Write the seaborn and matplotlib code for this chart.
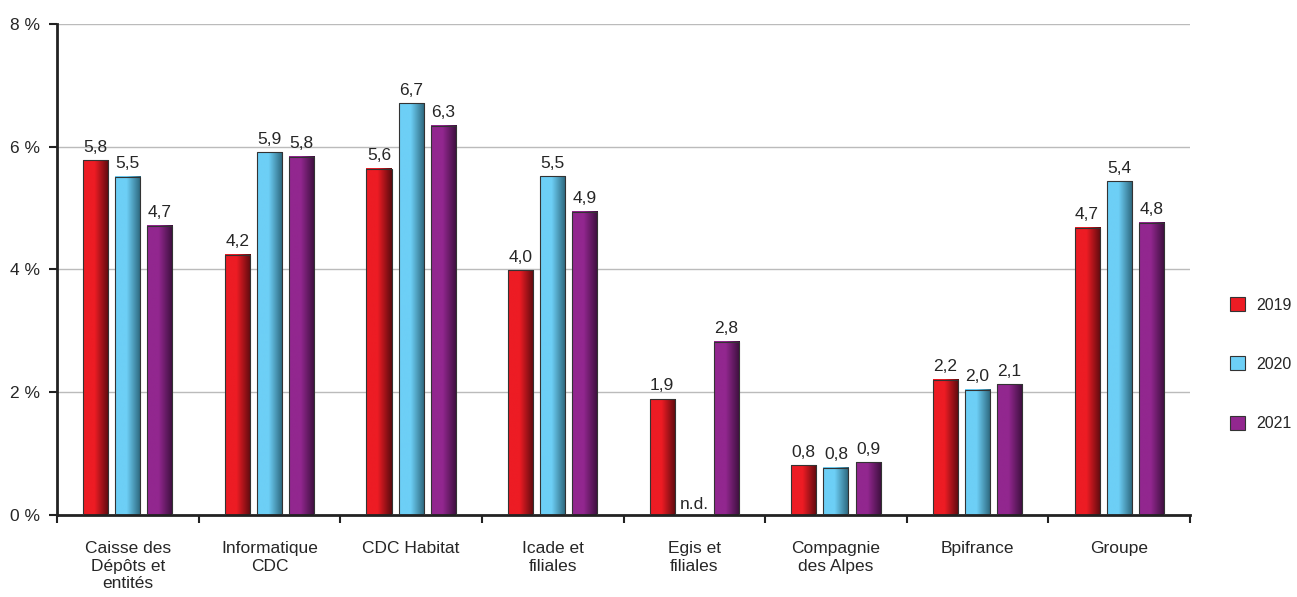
import numpy as np
import pandas as pd
import matplotlib
matplotlib.use("Agg")
import matplotlib.pyplot as plt
import seaborn as sns
from matplotlib.colors import LinearSegmentedColormap
from matplotlib.patches import Patch

# données (taux en %)
categories = ["Caisse des\nDépôts et\nentités", "Informatique\nCDC", "CDC Habitat",
              "Icade et\nfiliales", "Egis et\nfiliales", "Compagnie\ndes Alpes",
              "Bpifrance", "Groupe"]
years = ["2019", "2020", "2021"]
v2019 = [5.78, 4.24, 5.64, 3.99, 1.89, 0.81, 2.20, 4.68]
v2020 = [5.51, 5.91, 6.71, 5.52, np.nan, 0.77, 2.04, 5.44]
v2021 = [4.71, 5.84, 6.34, 4.94, 2.82, 0.86, 2.13, 4.76]
yticks = [0, 2, 4, 6, 8]

base_colors = {"2019": "#ED1C24", "2020": "#6DCFF6", "2021": "#92278F"}
dark_colors = {"2019": "#5A0A0E", "2020": "#2A6378", "2021": "#3A0F3B"}

df = pd.DataFrame({
    "cat": categories * 3,
    "annee": [y for y in years for _ in categories],
    "val": v2019 + v2020 + v2021,
})

sns.set_style("white")
plt.rcParams['font.family'] = ['Liberation Sans', 'DejaVu Sans']
FS = 12.5

fig = plt.figure(figsize=(12.97, 5.97), dpi=100)
ax = fig.add_axes([0.044, 0.1374, 0.8735, 0.8224])

sns.barplot(data=df, x="cat", y="val", hue="annee", hue_order=years,
            order=categories, palette=base_colors, width=0.68, gap=0.22,
            errorbar=None, legend=False, ax=ax)

# dégradé horizontal sur chaque barre
grad = np.linspace(0, 1, 256).reshape(1, -1)
for container, yr in zip(ax.containers, years):
    cmap = LinearSegmentedColormap.from_list(
        yr, [(0, base_colors[yr]), (0.45, base_colors[yr]), (1, dark_colors[yr])])
    for bar in container:
        h = bar.get_height()
        if np.isnan(h):
            continue
        x0, w = bar.get_x(), bar.get_width()
        ax.imshow(grad, extent=[x0, x0 + w, 0, h], aspect='auto', cmap=cmap,
                  zorder=2, interpolation='bilinear')
        bar.set_facecolor('none')
        bar.set_edgecolor('#333333')
        bar.set_linewidth(0.8)
        bar.set_zorder(3)
        ax.text(x0 + w / 2, h + 0.09, f"{h:.1f}".replace('.', ','),
                ha='center', va='bottom', fontsize=FS)

# Egis 2020 : non disponible
ax.text(categories.index("Egis et\nfiliales"), 0.05, "n.d.", ha='center',
        va='bottom', fontsize=FS)

ax.set_xlim(-0.5, len(categories) - 0.5)
ax.set_ylim(0, 8)
ax.set_yticks(yticks)
ax.set_yticklabels([f"{t} %" for t in yticks], fontsize=FS)
ax.set_xlabel("")
ax.set_ylabel("")
ax.set_xticks(range(len(categories)))
ax.set_xticklabels(categories, fontsize=FS, linespacing=1.2)
ax.set_xticks(np.arange(-0.5, len(categories)), minor=True)
ax.tick_params(axis='x', which='major', length=0, pad=19)
ax.tick_params(axis='x', which='minor', length=6, width=1.5, direction='out',
               bottom=True, color='#222222')
ax.tick_params(axis='y', length=6, width=1.5, direction='out', left=True,
               color='#222222', pad=6)

ax.yaxis.grid(True, color='#BBBBBB', linewidth=1)
ax.set_axisbelow(True)
for s in ['top', 'right']:
    ax.spines[s].set_visible(False)
for s in ['left', 'bottom']:
    ax.spines[s].set_color('#222222')
    ax.spines[s].set_linewidth(2)

handles = [Patch(facecolor=base_colors[y], edgecolor='#333333', linewidth=0.8)
           for y in years]
fig.legend(handles, years, loc='center left', bbox_to_anchor=(0.9375, 0.39),
           frameon=False, fontsize=11.5, handlelength=0.95, handleheight=0.95,
           labelspacing=2.75, handletextpad=0.7)

fig.savefig("out.png", dpi=100)
